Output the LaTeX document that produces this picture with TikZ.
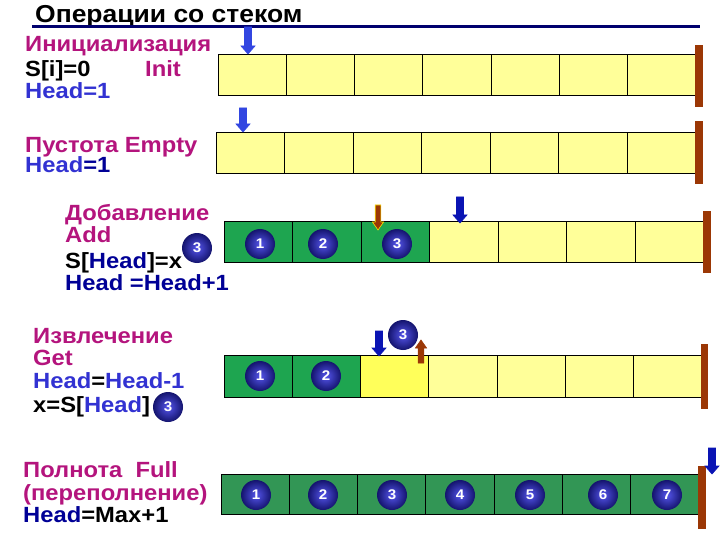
\documentclass[tikz,border=0pt]{standalone}
\usepackage{fontspec}
\setmainfont[FakeStretch=1.08]{Liberation Sans}
\definecolor{mag}{RGB}{180,20,125}
\definecolor{hblue}{RGB}{50,50,210}
\definecolor{navy}{RGB}{0,0,150}
\definecolor{cyel}{RGB}{255,255,153}
\definecolor{cyelb}{RGB}{255,255,90}
\definecolor{cgreen}{RGB}{30,165,80}
\definecolor{cgreenb}{RGB}{50,150,85}
\definecolor{brn}{RGB}{155,55,5}
\definecolor{arrblue}{RGB}{50,70,225}
\definecolor{arrnavy}{RGB}{10,20,180}
\definecolor{ballin}{RGB}{85,85,235}
\definecolor{ballout}{RGB}{20,20,110}
\definecolor{rule}{RGB}{0,0,110}
\begin{document}
\begin{tikzpicture}[x=1pt,y=-1pt,
  lbl/.style={anchor=base west, inner sep=0pt, font=\bfseries\fontsize{22}{24}\selectfont},
  cell/.style={draw=black, line width=0.8pt, inner sep=0pt, anchor=north west},
  ball/.style={circle, inner sep=0pt, minimum width=29pt, minimum height=30pt,
     inner color=ballin, outer color=ballout, text=white,
     font=\bfseries\fontsize{14}{14}\selectfont},
  bar/.style={fill=brn},
  pics/stkarr/.style n args={4}{code={
     \filldraw[fill=#1,draw=#2,line width=0.6pt]
       (-#3,0) -- (#3,0) -- (#3,#4-8) -- (2*#3,#4-8) -- (0,#4)
       -- (-2*#3,#4-8) -- (-#3,#4-8) -- cycle;}}
]
\useasboundingbox (0,0) rectangle (720,540);
\fill[white] (0,0) rectangle (720,540);

% title
\node[anchor=base west, inner sep=0pt, font=\bfseries\fontsize{24.5}{26}\selectfont] (title) at (35,23) {Операции со стеком};
\coordinate (ruleA) at (32,26.5);
\coordinate (ruleB) at (700,26.5);
\draw[rule, line width=2.5pt] (ruleA) -- (ruleB);

% ---------- row 1: Init ----------
\node[lbl, text=mag] (t1a) at (25,52) {Инициализация};
\node[lbl] (t1b) at (25,77) {S[i]=0};
\node[lbl, text=mag] (t1c) at (145,77) {Init};
\node[lbl, text=hblue] (t1d) at (25,99) {Head=1};
\foreach \i in {0,...,6}
  \node[cell, fill=cyel, minimum width=68.14pt, minimum height=41pt] (r1c\i) at ({218+\i*68.14},54) {};
\fill[bar] (695,45) rectangle (703,107);
\pic at (248,27) {stkarr={arrblue}{arrblue}{3.5}{27}};

% ---------- row 2: Empty ----------
\node[lbl, text=mag] (t2a) at (25,153) {Пустота Empty};
\node[lbl] (t2b) at (25,173) {\textcolor{hblue}{Head}\textcolor{navy}{=1}};
\foreach \i in {0,...,6}
  \node[cell, fill=cyel, minimum width=68.43pt, minimum height=41pt] (r2c\i) at ({216+\i*68.43},132) {};
\fill[bar] (695,121) rectangle (703,184);
\pic at (243,108) {stkarr={arrblue}{arrblue}{3.5}{24}};

% ---------- row 3: Add ----------
\node[lbl, text=mag] (t3a) at (65,221) {Добавление};
\node[lbl, text=mag] (t3b) at (65,243) {Add};
\node[lbl] (t3c) at (65,268) {S[\textcolor{navy}{Head}]=x};
\node[lbl, text=navy] (t3d) at (65,290) {Head =Head+1};
\foreach \i in {0,...,6}{
  \ifnum\i<3 \def\cf{cgreen}\else\def\cf{cyel}\fi
  \node[cell, fill=\cf, minimum width=68.43pt, minimum height=41pt] (r3c\i) at ({224+\i*68.43},221) {};
}
\fill[bar] (703,211) rectangle (711,273);
\node[ball] (r3b1) at (260,244) {1};
\node[ball] (r3b2) at (323,244) {2};
\node[ball] (r3b3) at (397,244) {3};
\node[ball] (r3x) at (197,248) {3};
\pic at (378,205) {stkarr={brn}{yellow!85!orange}{2.8}{25}};
\pic at (460,197) {stkarr={arrnavy}{arrnavy}{3.5}{26}};

% ---------- row 4: Get ----------
\node[lbl, text=mag] (t4a) at (33,343) {Извлечение};
\node[lbl, text=mag] (t4b) at (33,365) {Get};
\node[lbl, text=hblue] (t4c) at (33,388) {Head\textcolor{black}{=}Head-1};
\node[lbl] (t4d) at (33,412) {x=S[\textcolor{hblue}{Head}]};
\foreach \i in {0,...,6}{
  \ifnum\i<2 \def\cf{cgreen}\else\ifnum\i=2 \def\cf{cyelb}\else\def\cf{cyel}\fi\fi
  \node[cell, fill=\cf, minimum width=68.14pt, minimum height=42pt] (r4c\i) at ({224+\i*68.14},355) {};
}
\fill[bar] (701,344) rectangle (708,409);
\node[ball] (r4b1) at (260,376) {1};
\node[ball] (r4b2) at (326,376) {2};
\node[ball] (r4b3) at (403,335) {3};
\node[ball] (r4x) at (168,407) {3};
\pic at (379,331) {stkarr={arrnavy}{arrnavy}{3.5}{25}};
\pic[rotate=180] at (421,363) {stkarr={brn}{brn}{2.8}{23}};

% ---------- row 5: Full ----------
\node[lbl, text=mag] (t5a) at (23,477) {Полнота\ \ Full};
\node[lbl, text=mag] (t5b) at (23,500) {(переполнение)};
\node[lbl] (t5c) at (23,522) {\textcolor{navy}{Head}=Max+1};
\foreach \i in {0,...,6}
  \node[cell, fill=cgreenb, minimum width=68.14pt, minimum height=40pt] (r5c\i) at ({221+\i*68.14},474) {};
\fill[bar] (698,466) rectangle (706,529);
\foreach \n/\x in {1/256,2/323,3/392,4/460,5/530,6/603,7/667}
  \node[ball] (r5b\n) at (\x,495) {\n};
\pic at (712,448) {stkarr={arrnavy}{arrnavy}{3.5}{26}};
\end{tikzpicture}
\end{document}
